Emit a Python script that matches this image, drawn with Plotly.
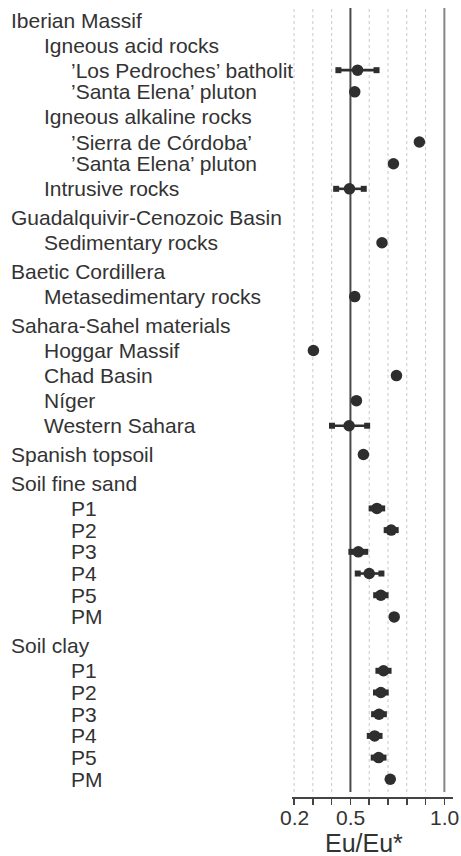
import plotly.graph_objects as go

# ---------------- data ----------------
labels = [
    "Iberian Massif", "Igneous acid rocks", "’Los Pedroches’ batholit", "’Santa Elena’ pluton",
    "Igneous alkaline rocks", "’Sierra de Córdoba’", "’Santa Elena’ pluton", "Intrusive rocks",
    "Guadalquivir-Cenozoic Basin", "Sedimentary rocks",
    "Baetic Cordillera", "Metasedimentary rocks",
    "Sahara-Sahel materials", "Hoggar Massif", "Chad Basin", "Níger", "Western Sahara",
    "Spanish topsoil",
    "Soil fine sand", "P1", "P2", "P3", "P4", "P5", "PM",
    "Soil clay", "P1", "P2", "P3", "P4", "P5", "PM",
]
levels = [0, 1, 2, 2, 1, 2, 2, 1,
          0, 1,
          0, 1,
          0, 1, 1, 1, 1,
          0,
          0, 2, 2, 2, 2, 2, 2,
          0, 2, 2, 2, 2, 2, 2]
eu_ratio = [None, None, 0.538, 0.523, None, 0.867, 0.729, 0.495,
            None, 0.668,
            None, 0.523,
            None, 0.303, 0.745, 0.532, 0.493,
            0.569,
            None, 0.641, 0.717, 0.542, 0.600, 0.662, 0.733,
            None, 0.676, 0.662, 0.652, 0.629, 0.650, 0.712]
err_low = [None, None, 0.436, None, None, None, None, 0.424,
           None, None,
           None, None,
           None, None, None, None, 0.402,
           None,
           None, 0.613, 0.693, 0.505, 0.539, 0.637, None,
           None, 0.649, 0.636, 0.626, 0.603, 0.624, None]
err_high = [None, None, 0.639, None, None, None, None, 0.571,
            None, None,
            None, None,
            None, None, None, None, 0.589,
            None,
            None, 0.669, 0.741, 0.579, 0.665, 0.687, None,
            None, 0.703, 0.688, 0.678, 0.655, 0.676, None]
x_tickvals = [0.2, 0.3, 0.4, 0.5, 0.6, 0.7, 0.8, 0.9, 1.0]
x_ticktext = ["0.2", "", "", "0.5", "", "", "", "", "1.0"]
x_title = "Eu/Eu*"

# ---------------- layout helpers ----------------
W, H = 461, 856
FONT = "Liberation Sans, Arial, Helvetica, sans-serif"
DARK = "#2e2e2e"
TXT = "#333333"

def fx(px):  # window x (px) -> paper x
    return px / W

# row positions (group headers get extra space, sub-sub rows are compact)
STEP, GAP, COMPACT = 1.0, 1.148, 0.865
pos = []
yv = 0.0
for i, lv in enumerate(levels):
    if i > 0:
        if lv == 0:
            yv += GAP
        elif lv == 2 and levels[i - 1] == 2:
            yv += COMPACT
        else:
            yv += STEP
    pos.append(yv)

plot_top_px, plot_bot_px = 8, 797
first_px, last_px = 20, 779.3
unit = (last_px - first_px) / (pos[-1] - pos[0])
y_top = pos[0] - (first_px - plot_top_px) / unit
y_bot = pos[-1] + (plot_bot_px - last_px) / unit
plot_h = plot_bot_px - plot_top_px

def fy(px):  # window y (px) -> paper y
    return (plot_bot_px - px) / plot_h

fig = go.Figure()

# error bar lines
seg_x, seg_y, cap_x, cap_y = [], [], [], []
for p, lo, hi in zip(pos, err_low, err_high):
    if lo is not None and hi is not None:
        seg_x += [lo, hi, None]
        seg_y += [p, p, None]
        cap_x += [lo, hi]
        cap_y += [p, p]
fig.add_trace(go.Scatter(x=seg_x, y=seg_y, mode="lines",
                         line=dict(color=DARK, width=2.6), hoverinfo="skip", showlegend=False))
fig.add_trace(go.Scatter(x=cap_x, y=cap_y, mode="markers",
                         marker=dict(symbol="square", size=6, color=DARK),
                         hoverinfo="skip", showlegend=False))

# points
px_ = [v for v in eu_ratio if v is not None]
py_ = [p for p, v in zip(pos, eu_ratio) if v is not None]
fig.add_trace(go.Scatter(x=px_, y=py_, mode="markers",
                         marker=dict(symbol="circle", size=11.5, color=DARK),
                         showlegend=False))

# vertical reference/grid lines
for tv in x_tickvals:
    if abs(tv - 0.5) < 1e-9:
        ln = dict(color="#4a4a4a", width=2)
    elif abs(tv - 1.0) < 1e-9:
        ln = dict(color="#858585", width=2)
    else:
        ln = dict(color="#c8c8c8", width=1, dash="dot")
    fig.add_shape(type="line", xref="x", yref="paper", x0=tv, x1=tv,
                  y0=fy(792), y1=1, line=ln, layer="below")

# row labels
indent_px = {0: 9, 1: 42, 2: 69}
for lab, lv, p in zip(labels, levels, pos):
    fig.add_annotation(text=lab, xref="paper", yref="y", x=fx(indent_px[lv]), y=p,
                       xanchor="left", yanchor="middle", showarrow=False,
                       font=dict(family=FONT, size=21, color=TXT))

# x tick labels (placed as text so that their distance to the axis matches)
for tv, tt in zip(x_tickvals, x_ticktext):
    if tt:
        fig.add_annotation(text=tt, xref="x", yref="paper", x=tv, y=fy(817),
                           xanchor="center", yanchor="middle", showarrow=False,
                           font=dict(family=FONT, size=21, color=TXT))

# axis title
fig.add_annotation(text=x_title, xref="paper", yref="paper",
                   x=fx(364), y=fy(843),
                   xanchor="center", yanchor="middle", showarrow=False,
                   font=dict(family=FONT, size=25, color=TXT))

fig.update_layout(
    width=W, height=H,
    margin=dict(l=0, r=0, t=plot_top_px, b=H - plot_bot_px, pad=0),
    paper_bgcolor="white", plot_bgcolor="white",
    font=dict(family=FONT, color=TXT),
    hovermode=False,
    xaxis=dict(domain=[fx(292), fx(453)], range=[0.189, 1.046],
               tickmode="array", tickvals=x_tickvals, showticklabels=False,
               showgrid=False, zeroline=False, showline=True, linecolor="#444444", linewidth=1.5,
               ticks="outside", ticklen=6, tickwidth=1.5, tickcolor="#444444",
               automargin=False),
    yaxis=dict(range=[y_bot, y_top], visible=False, showgrid=False, zeroline=False, automargin=False),
)

# remove the browser's default page margin so the figure fills the window exactly
fig.write_html("out.html",
               config={"displayModeBar": False, "staticPlot": True},
               post_script="document.body.style.margin='0';document.body.style.overflow='hidden';")
